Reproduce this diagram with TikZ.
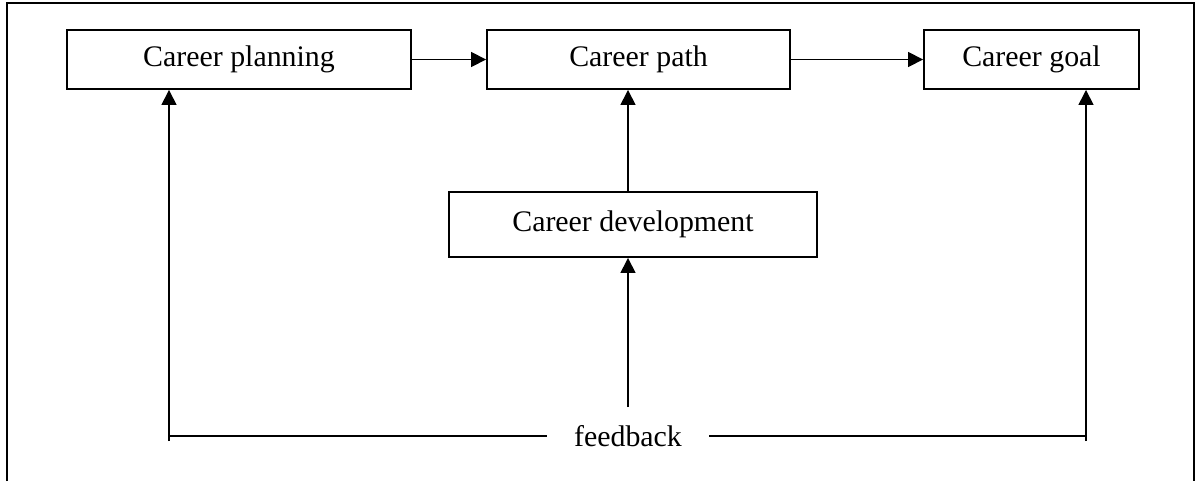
\documentclass[tikz,border=0pt]{standalone}
\usepackage{fontspec}
\setmainfont{Liberation Serif}
\usetikzlibrary{arrows.meta,positioning,calc}
\tikzset{
  arr/.style={-{Triangle[length=8.5pt,width=8.5pt]},line width=0.9pt},
  box/.style={rectangle,draw,line width=1.1pt,minimum height=1.18cm,
    text centered,inner sep=0pt,font=\fontsize{17}{20}\selectfont},
  lbl/.style={inner ysep=2pt,inner xsep=0.54cm,font=\fontsize{17}{20}\selectfont},
}
\begin{document}
\begin{tikzpicture}[x=0.02cm,y=-0.02cm]
\useasboundingbox (0,0) rectangle (1200,481);
\draw[line width=1.2pt] (7,481) -- (7,3) -- (1194,3) -- (1194,481);

\node[box,minimum width=6.88cm] (plan) at (239,59.5) {Career planning};
\node[box,minimum width=6.06cm] (cpath) at (638.5,59.5) {Career path};
\node[box,minimum width=4.3cm] (goal) at (1031.5,59.5) {Career goal};
\node[box,minimum width=7.36cm,minimum height=1.3cm] (dev) at (633,224.5) {Career development};
\node[lbl] (fb) at (628,436) {feedback};

\coordinate (fbtop) at (628,407);
\coordinate (lft) at (169,441);
\coordinate (rgt) at (1086,441);

\draw[arr] (plan) -- (cpath);
\draw[arr] (cpath) -- (goal);
\draw[arr] (fbtop |- dev.north) -- (fbtop |- cpath.south);
\draw[arr] (fbtop) -- (fbtop |- dev.south);

% feedback loop
\draw[line width=0.9pt] (fb.west) -- (fb.west -| lft);
\draw[line width=0.9pt] (fb.east) -- (fb.east -| rgt);
\draw[arr] (lft) -- (lft |- plan.south);
\draw[arr] (rgt) -- (rgt |- goal.south);
\end{tikzpicture}
\end{document}
